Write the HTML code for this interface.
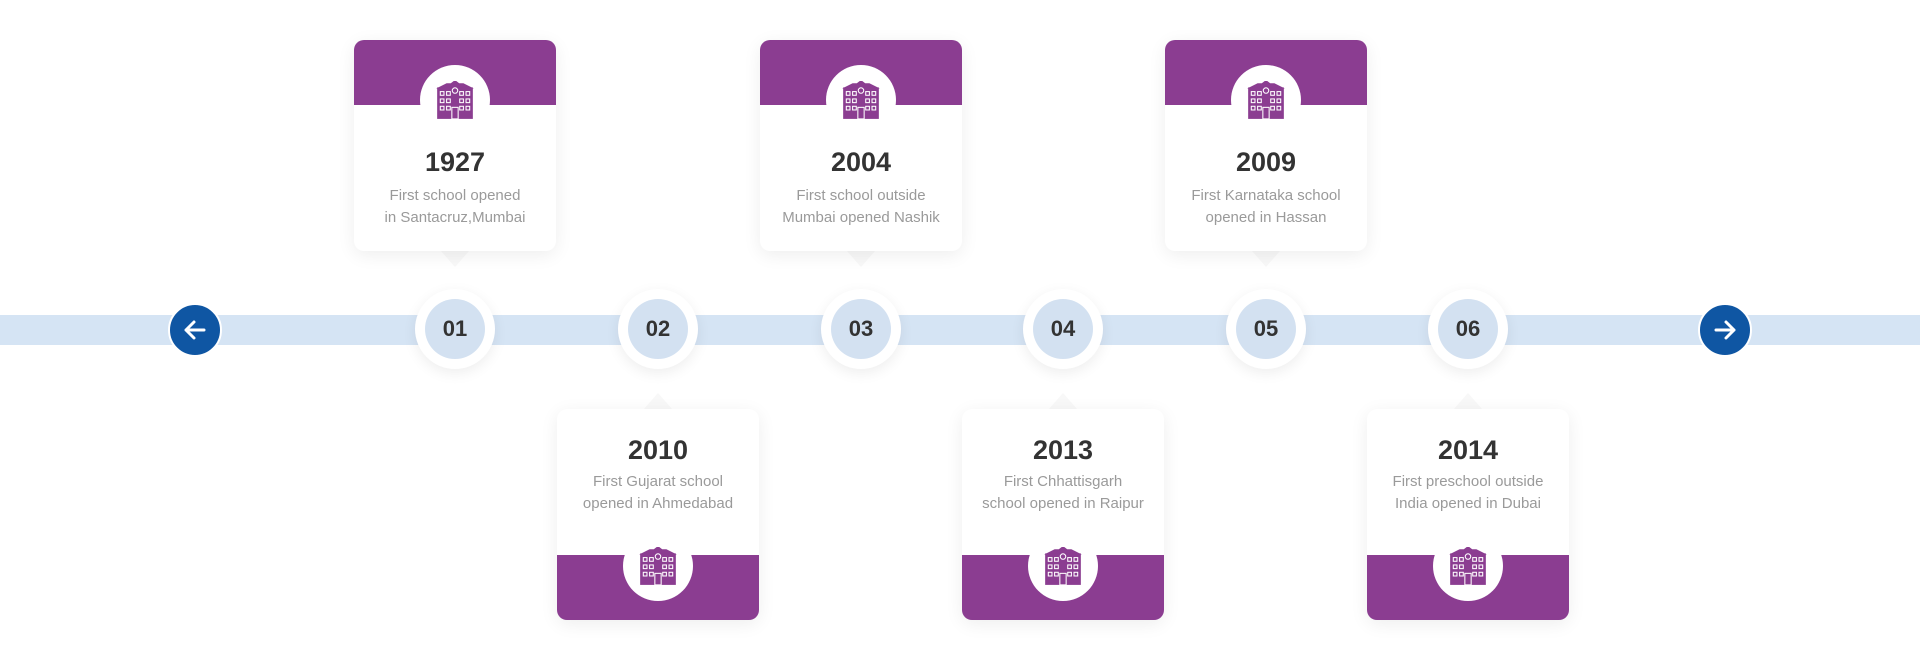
<!DOCTYPE html>
<html><head><meta charset="utf-8"><style>
*{margin:0;padding:0;box-sizing:border-box}
body{width:1920px;height:660px;background:#fff;position:relative;overflow:hidden;font-family:"Liberation Sans",Arial,sans-serif}
.bar{position:absolute;left:0;top:315px;width:1920px;height:30px;background:#d5e4f4}
.node{position:absolute;top:289px;width:80px;height:80px;margin-left:-40px;border-radius:50%;background:#fff;box-shadow:0 4px 14px rgba(0,0,0,0.07)}
.node span{position:absolute;left:10px;top:10px;width:60px;height:60px;border-radius:50%;background:#d3e1f1;color:#333;font-weight:bold;font-size:22px;line-height:60px;text-align:center}
.arrow{position:absolute;top:303px;width:54px;height:54px;margin-left:-27px;border-radius:50%;background:#0f56a3;border:2px solid #fff}
.card{position:absolute;width:202px;height:211px;margin-left:-101px;background:#fff;border-radius:10px;box-shadow:0 4px 18px rgba(0,0,0,0.07);overflow:hidden;text-align:center}
.card .ph{position:absolute;left:0;width:202px;height:65px;background:#8b3d91}
.card .ic{position:absolute;left:66px;width:70px;height:70px;border-radius:50%;background:#fff}
.card .ic svg{position:absolute;left:14px;top:16px}
.card h3{position:absolute;left:0;width:202px;font-size:27px;color:#333;font-weight:bold;line-height:32px}
.card p{position:absolute;left:0;width:202px;font-size:15px;color:#9a9a9a;line-height:22px}
.top{top:40px}.top .ph{top:0}.top .ic{top:25px}.top h3{top:106px}.top p{top:145px}
.bot{top:409px}.bot .ph{bottom:0}.bot .ic{top:122px}.bot h3{top:25px}.bot p{top:62px}
.tri{position:absolute;width:0;height:0;margin-left:-14px;border-left:14px solid transparent;border-right:14px solid transparent}
</style></head><body>
<svg width="0" height="0" style="position:absolute"><defs><symbol id="b" viewBox="0 0 40 36">
<path d="M2 7 L12 2 L16 2 L20 -1 L24 2 L28 2 L38 7 Z" fill="#8b3d91"/>
<rect x="3" y="6" width="34" height="30" fill="#8b3d91"/>
<circle cx="20" cy="9" r="2.6" fill="none" stroke="#fff" stroke-width="1"/>
<g fill="none" stroke="#fff" stroke-width="1">
<rect x="6" y="10" width="3.5" height="3.5"/><rect x="12" y="10" width="3.5" height="3.5"/><rect x="24.5" y="10" width="3.5" height="3.5"/><rect x="30.5" y="10" width="3.5" height="3.5"/>
<rect x="6" y="17" width="3.5" height="3.5"/><rect x="12" y="17" width="3.5" height="3.5"/><rect x="24.5" y="17" width="3.5" height="3.5"/><rect x="30.5" y="17" width="3.5" height="3.5"/>
<rect x="6" y="24" width="3.5" height="3.5"/><rect x="12" y="24" width="3.5" height="3.5"/><rect x="24.5" y="24" width="3.5" height="3.5"/><rect x="30.5" y="24" width="3.5" height="3.5"/>
<rect x="17" y="25" width="6" height="11"/></g></symbol></defs></svg>

<div class="bar"></div>

<div class="tri" style="left:455px;top:251px;border-top:16px solid #f8f8f8"></div>
<div class="tri" style="left:861px;top:251px;border-top:16px solid #f8f8f8"></div>
<div class="tri" style="left:1266px;top:251px;border-top:16px solid #f8f8f8"></div>
<div class="tri" style="left:658px;top:393px;border-bottom:16px solid #f8f8f8"></div>
<div class="tri" style="left:1063px;top:393px;border-bottom:16px solid #f8f8f8"></div>
<div class="tri" style="left:1468px;top:393px;border-bottom:16px solid #f8f8f8"></div>

<div class="arrow" style="left:195px"><svg width="50" height="50" viewBox="0 0 50 50"><path d="M34 25 H16 M24 17 L16 25 L24 33" stroke="#fff" stroke-width="3" fill="none" stroke-linecap="round" stroke-linejoin="round"/></svg></div>
<div class="arrow" style="left:1725px"><svg width="50" height="50" viewBox="0 0 50 50"><path d="M16 25 H34 M26 17 L34 25 L26 33" stroke="#fff" stroke-width="3" fill="none" stroke-linecap="round" stroke-linejoin="round"/></svg></div>

<div class="node" style="left:455px"><span>01</span></div>
<div class="node" style="left:658px"><span>02</span></div>
<div class="node" style="left:861px"><span>03</span></div>
<div class="node" style="left:1063px"><span>04</span></div>
<div class="node" style="left:1266px"><span>05</span></div>
<div class="node" style="left:1468px"><span>06</span></div>

<div class="card top" style="left:455px"><div class="ph"></div><div class="ic"><svg width="42" height="38"><use href="#b"/></svg></div><h3>1927</h3><p>First school opened<br>in Santacruz,Mumbai</p></div>
<div class="card top" style="left:861px"><div class="ph"></div><div class="ic"><svg width="42" height="38"><use href="#b"/></svg></div><h3>2004</h3><p>First school outside<br>Mumbai opened Nashik</p></div>
<div class="card top" style="left:1266px"><div class="ph"></div><div class="ic"><svg width="42" height="38"><use href="#b"/></svg></div><h3>2009</h3><p>First Karnataka school<br>opened in Hassan</p></div>

<div class="card bot" style="left:658px"><div class="ph"></div><div class="ic"><svg width="42" height="38"><use href="#b"/></svg></div><h3>2010</h3><p>First Gujarat school<br>opened in Ahmedabad</p></div>
<div class="card bot" style="left:1063px"><div class="ph"></div><div class="ic"><svg width="42" height="38"><use href="#b"/></svg></div><h3>2013</h3><p>First Chhattisgarh<br>school opened in Raipur</p></div>
<div class="card bot" style="left:1468px"><div class="ph"></div><div class="ic"><svg width="42" height="38"><use href="#b"/></svg></div><h3>2014</h3><p>First preschool outside<br>India opened in Dubai</p></div>
</body></html>
